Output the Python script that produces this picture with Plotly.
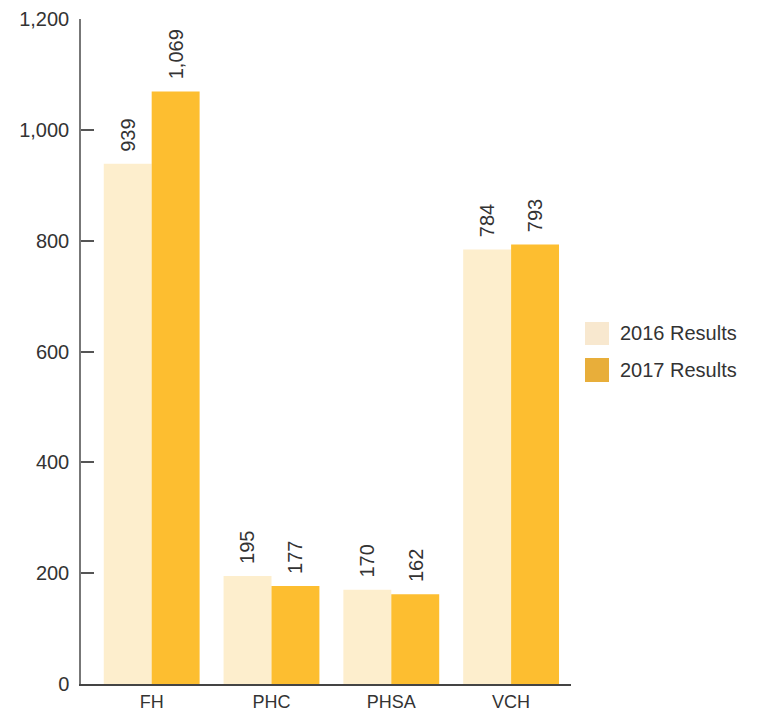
import plotly.graph_objects as go

categories = ["FH", "PHC", "PHSA", "VCH"]
results_2016 = [939, 195, 170, 784]
results_2017 = [1069, 177, 162, 793]
series_names = ["2016 Results", "2017 Results"]
tick_values = [0, 200, 400, 600, 800, 1000, 1200]
tick_labels = ["0", "200", "400", "600", "800", "1,000", "1,200"]

bar_colors = ["#FDEECD", "#FDBE30"]
legend_colors = ["#F8E8CF", "#E8AE3A"]
font_family = "Liberation Sans, Arial, sans-serif"
text_color = "#333333"

fig = go.Figure()
for name, values, color in zip(series_names, [results_2016, results_2017], bar_colors):
    fig.add_trace(go.Bar(
        x=categories, y=values, name=name, marker=dict(color=color, line=dict(width=0)),
        showlegend=False, hoverinfo="x+y",
    ))

# rotated value labels above each bar
annotations = []
for offset, values in zip([-24, 24], [results_2016, results_2017]):
    for cat, v in zip(categories, values):
        annotations.append(dict(
            x=cat, y=v, xref="x", yref="y", text=f"{v:,}", showarrow=False,
            textangle=-90, xanchor="center", yanchor="bottom", xshift=offset, yshift=10,
            font=dict(family=font_family, size=20, color=text_color),
        ))

# legend drawn beside the plot area
shapes = []
legend_rows = [(0.5444, 0.5098), (0.4902, 0.4541)]
for (y_top, y_bot), name, color in zip(legend_rows, series_names, legend_colors):
    shapes.append(dict(type="rect", xref="paper", yref="paper", x0=1.0286, x1=1.0776,
                       y0=y_bot, y1=y_top, fillcolor=color, line=dict(width=0)))
    annotations.append(dict(
        x=1.0959, y=(y_top + y_bot) / 2, xref="paper", yref="paper", text=name,
        showarrow=False, xanchor="left", yanchor="middle",
        font=dict(family=font_family, size=20, color=text_color),
    ))

fig.update_layout(
    width=759, height=713,
    margin=dict(l=81, r=188, t=19, b=29),
    paper_bgcolor="white", plot_bgcolor="white",
    barmode="group", bargap=0.2, bargroupgap=0,
    annotations=annotations, shapes=shapes,
    font=dict(family=font_family, size=20, color=text_color),
)
fig.update_xaxes(
    range=[-0.59, 3.5], showgrid=False, zeroline=False, ticks="", automargin=False,
    showline=True, linecolor="#444444", linewidth=2, ticklabelstandoff=0,
    tickfont=dict(family=font_family, size=18, color=text_color),
)
fig.update_yaxes(
    range=[0, 1200], tickvals=tick_values, ticktext=tick_labels, showgrid=False, zeroline=False,
    showline=True, linecolor="#777777", linewidth=1.5, automargin=False,
    ticks="inside", ticklen=13, tickcolor="#555555", tickwidth=1.5, ticklabelstandoff=6,
    tickfont=dict(family=font_family, size=20, color=text_color),
)

fig.write_html("out.html")
